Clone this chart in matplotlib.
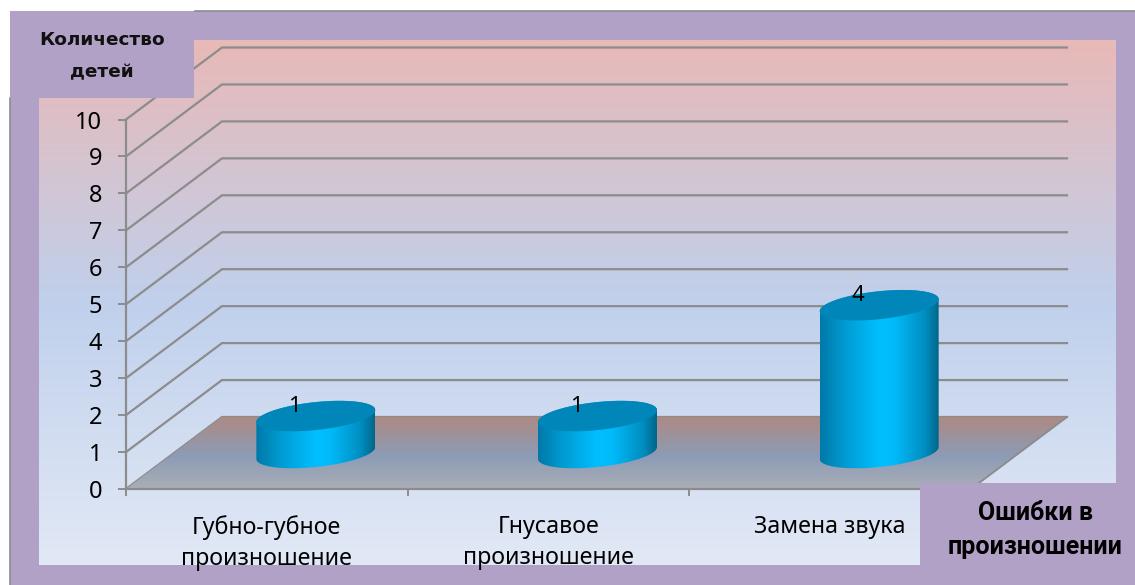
import numpy as np
import matplotlib
matplotlib.use("Agg")
import matplotlib.pyplot as plt
from matplotlib.colors import LinearSegmentedColormap
from matplotlib.patches import Polygon, Rectangle

categories = ["Губно-губное\nпроизношение", "Гнусавое\nпроизношение", "Замена звука"]
values = [1, 1, 4]
y_ticks = list(range(0, 11))
y_title = "Количество\nдетей"
x_title = "Ошибки в\nпроизношении"

W, H = 1135, 585
PURPLE = "#b2a1c7"
GREY = "#8c8c8c"
FONT = ["Noto Sans", "DejaVu Sans"]

# 3d look: how far the back wall sits from the front plane, in data units
DEPTH_X = 96 / 281.7
DEPTH_Y = 72 / 36.95
# cylinder ellipse
SEMI_A = 59.5 / 281.7
SEMI_B = 14 / 36.95
TILT = 6 / 36.95


def gradient(ax, colors, extent, vertical=True, clip=None, zorder=1):
    cmap = LinearSegmentedColormap.from_list("g", colors)
    ramp = np.linspace(0, 1, 256)
    ramp = ramp.reshape(-1, 1) if vertical else ramp.reshape(1, -1)
    im = ax.imshow(ramp, cmap=cmap, extent=extent, aspect="auto", origin="upper",
                   interpolation="bilinear", zorder=zorder)
    if clip is not None:
        im.set_clip_box(ax.figure.bbox)
        im.set_clip_path(clip)
    return im


fig = plt.figure(figsize=(W / 100, H / 100), dpi=100, facecolor="white")

# background layer in pixel coordinates
bg = fig.add_axes([0, 0, 1, 1])
bg.set_xlim(0, W)
bg.set_ylim(H, 0)
bg.axis("off")
bg.add_patch(Rectangle((10, 11), W - 10, H - 11, color=PURPLE, lw=0))
gradient(bg, [(0, "#e8b9b7"), (0.5, "#c0d0ec"), (1, "#e2e9f6")], (39, 1116, 565, 40))
bg.set_xlim(0, W)
bg.set_ylim(H, 0)
bg.plot([195, W], [11, 11], color=GREY, lw=1.2)
bg.plot([10, 10], [98, H], color=GREY, lw=1.2)

# chart
ax = fig.add_axes([126 / W, (H - 489) / H, 845 / W, 369.5 / H])
ax.patch.set_alpha(0)
n = len(categories)

for v in y_ticks:
    ax.plot([0, DEPTH_X, n + DEPTH_X], [v, v + DEPTH_Y, v + DEPTH_Y], color=GREY, lw=1.6,
            clip_on=False, zorder=1)

floor = Polygon([(0, 0), (n, 0), (n + DEPTH_X, DEPTH_Y), (DEPTH_X, DEPTH_Y)],
                transform=ax.transData)
gradient(ax, [(0, "#ad8a84"), (0.55, "#8c9cb6"), (1, "#aaaeb6")],
         (0, n + DEPTH_X, 0, DEPTH_Y), clip=floor, zorder=2)
ax.plot([n, n + DEPTH_X], [0, DEPTH_Y], color=GREY, lw=1.4, clip_on=False, zorder=3)

t = np.linspace(0, 2 * np.pi, 181)
body_colors = [(0, "#0079a8"), (0.2, "#009ad0"), (0.5, "#00bfff"), (0.62, "#00bbfa"), (0.88, "#008fc2"), (1, "#00668a")]
for i, val in enumerate(values):
    cx = i + 0.5 + DEPTH_X / 2 + 1 / 281.7
    base = DEPTH_Y / 2
    ex = cx + SEMI_A * np.cos(t)
    ey = SEMI_B * np.sin(t) + TILT * np.cos(t)
    up = t <= np.pi
    low = t >= np.pi
    body = Polygon(np.r_[np.c_[ex[up], base + val + ey[up]], np.c_[ex[low], base + ey[low]]],
                   transform=ax.transData)
    gradient(ax, body_colors, (cx - SEMI_A, cx + SEMI_A, base - 1, base + val + 1),
             vertical=False, clip=body, zorder=5)
    ax.fill(ex, base + val + ey, color="#0086b8", lw=0, zorder=6, clip_on=False)
    ax.annotate(str(val), (cx, base + val), xytext=(-15.5, 7), textcoords="offset points",
                ha="center", va="center", fontsize=16, family=FONT, color="black", zorder=7)

ax.set_xlim(0, n)
ax.set_ylim(0, 10)
ax.set_yticks(y_ticks)
ax.set_xticks(range(n + 1))
ax.set_xticklabels([])
ax.set_xticks(np.arange(n) + 0.5, categories, minor=True, family=FONT, fontsize=16.7,
              linespacing=1.41, va="top")
ax.tick_params(axis="x", which="minor", length=0, pad=18.7)
ax.tick_params(axis="x", which="major", length=5, width=1.4, color=GREY)
ax.tick_params(axis="y", length=6, width=1.4, color=GREY, pad=11, labelsize=17)
for lab in ax.get_yticklabels():
    lab.set_family(FONT)
for side in ("top", "right"):
    ax.spines[side].set_visible(False)
for side in ("left", "bottom"):
    ax.spines[side].set_color(GREY)
    ax.spines[side].set_linewidth(1.6)

# purple boxes that sit over the plot
top = fig.add_axes([0, 0, 1, 1])
top.patch.set_alpha(0)
top.set_xlim(0, W)
top.set_ylim(H, 0)
top.axis("off")
top.add_patch(Rectangle((10, 11), 184, 87, color=PURPLE, lw=0))
top.add_patch(Rectangle((920, 483), 196, 82, color=PURPLE, lw=0))
top.text(102, 56, y_title, ha="center", va="center", fontsize=13.3, fontweight="bold",
         family="DejaVu Sans", linespacing=2.05, color="#111111")
top.text(1035, 530, x_title, ha="center", va="center", fontsize=18, fontweight="bold",
         family="Roboto", linespacing=1.5, color="black")

fig.savefig("out.png", dpi=100)
